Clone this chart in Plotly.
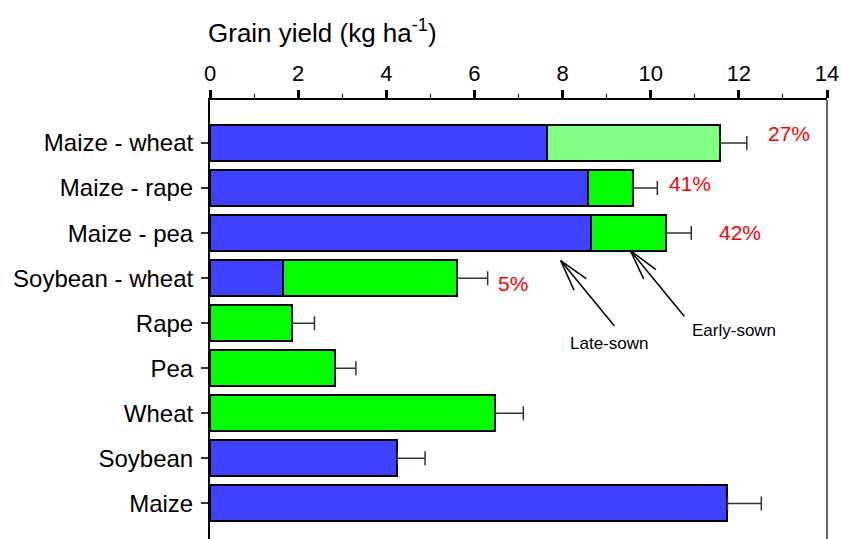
import plotly.graph_objects as go

categories = ["Maize - wheat", "Maize - rape", "Maize - pea", "Soybean - wheat",
              "Rape", "Pea", "Wheat", "Soybean", "Maize"]
late_sown = [7.64, 8.57, 8.64, 1.65, 0, 0, 0, 4.25, 11.74]          # blue segment
early_sown = [0, 1.02, 1.70, 3.96, 1.86, 2.84, 6.47, 0, 0]          # green segment
early_sown_light = [3.93, 0, 0, 0, 0, 0, 0, 0, 0]                  # light green segment
error_plus = [0.61, 0.56, 0.58, 0.69, 0.51, 0.47, 0.64, 0.63, 0.77]
pct_labels = ["27%", "41%", "42%", "5%"]
pct_x = [13.13, 10.89, 12.02, 6.88]
tick_vals = list(range(0, 15, 2))

totals = [a + b + c for a, b, c in zip(late_sown, early_sown, early_sown_light)]

FONT = "Liberation Sans, Arial, Helvetica, sans-serif"
fig = go.Figure()
outline = dict(color="black", width=2)
fig.add_trace(go.Bar(y=categories, x=late_sown, orientation="h", width=0.8,
                     marker=dict(color="#4040FF", line=outline), showlegend=False))
fig.add_trace(go.Bar(y=categories, x=early_sown, orientation="h", width=0.8,
                     marker=dict(color="#00FF00", line=outline), showlegend=False))
fig.add_trace(go.Bar(y=categories, x=early_sown_light, orientation="h", width=0.8,
                     marker=dict(color="#80FF80", line=outline), showlegend=False))
fig.add_trace(go.Scatter(y=categories, x=totals, mode="markers",
                         marker=dict(size=1, color="rgba(0,0,0,0)"),
                         error_x=dict(type="data", symmetric=False, array=error_plus,
                                      arrayminus=[0] * len(error_plus),
                                      color="#333333", thickness=1.5, width=7),
                         showlegend=False, hoverinfo="skip"))

fig.update_layout(
    barmode="stack",
    width=841, height=539,
    margin=dict(l=210, r=14, t=100, b=0),
    plot_bgcolor="white", paper_bgcolor="white",
    font=dict(family=FONT, color="black"),
    xaxis=dict(side="top", range=[0, 14], tickvals=tick_vals, automargin=False,
               ticks="outside", ticklen=8, tickwidth=3, tickcolor="black",
               showline=True, linecolor="black", linewidth=2,
               showgrid=False, zeroline=False, ticklabelstandoff=0,
               tickfont=dict(size=22, family=FONT),
               minor=dict(dtick=1, ticks="outside", ticklen=4, tickwidth=1,
                          tickcolor="black", showgrid=False)),
    yaxis=dict(type="category", categoryorder="array", categoryarray=categories,
               range=[8.79, -0.955], automargin=False,
               ticks="outside", ticklen=7, tickwidth=1.5, tickcolor="#333333",
               showline=True, linecolor="black", linewidth=2,
               showgrid=False, zeroline=False, ticklabelstandoff=3,
               tickfont=dict(size=24, family=FONT)),
    shapes=[dict(type="line", xref="paper", yref="paper", x0=1, x1=1, y0=0, y1=1,
                 line=dict(color="#666666", width=2))],
)

ann = []
ann.append(dict(xref="paper", yref="paper", x=-0.006, y=1.0, yshift=69,
                xanchor="left", yanchor="middle", showarrow=False,
                text="Grain yield (kg ha<sup>-1</sup>)",
                font=dict(size=26, family=FONT, color="black")))
for i, (t, px) in enumerate(zip(pct_labels, pct_x)):
    ann.append(dict(x=px, y=i, xref="x", yref="y", text=t, showarrow=False,
                    yshift=[10, 5, 1, -5][i],
                    font=dict(size=21, color="#FF0000", family=FONT)))

# arrows: shaft + two arms, each a headless annotation arrow ending at the tip
arrow_tips = [(7.957, 2.61), (9.54, 2.39)]
arrow_tails = [(55, 67), (55, 67)]
arm_a = [(27, 19), (27, 20)]
arm_b = [(14, 31), (14, 30)]
for (tx, ty), tail, a1, a2 in zip(arrow_tips, arrow_tails, arm_a, arm_b):
    for off in (tail, a1, a2):
        ann.append(dict(x=tx, y=ty, xref="x", yref="y", text="", showarrow=True,
                        arrowhead=0, arrowwidth=1.5, arrowcolor="black",
                        ax=off[0], ay=off[1], standoff=0, startstandoff=0))
ann.append(dict(x=9.05, y=4.44, xref="x", yref="y", text="Late-sown", showarrow=False,
                font=dict(size=17, family=FONT, color="black")))
ann.append(dict(x=11.9, y=4.17, xref="x", yref="y", text="Early-sown", showarrow=False,
                font=dict(size=17, family=FONT, color="black")))
fig.update_layout(annotations=ann)

fig.write_html("out.html", config={"displayModeBar": False},
               post_script="document.body.style.margin='0';"
                           "document.body.style.overflow='hidden';")
